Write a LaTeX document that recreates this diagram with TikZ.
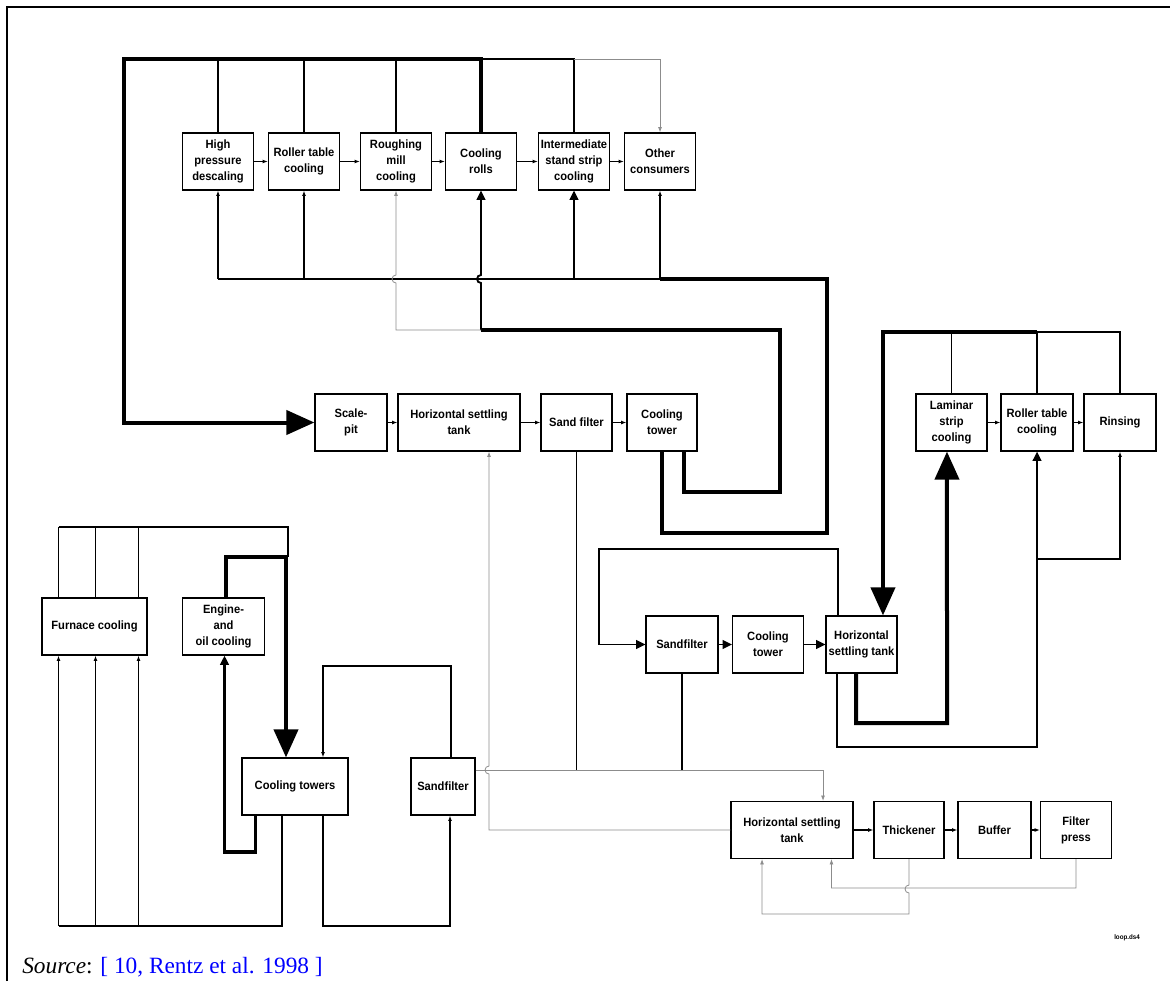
\documentclass[tikz,border=0pt]{standalone}
\usepackage{fontspec}
\setmainfont{Liberation Serif}
\newfontfamily\boxfont{Liberation Sans}[FakeStretch=0.93]
\usetikzlibrary{arrows.meta}

\tikzset{
    box/.style={draw, rectangle, line width=0.9pt, inner sep=1pt, align=center,
        minimum height=42.75pt, font=\boxfont\bfseries\fontsize{9}{12}\selectfont},
    wd/.style={minimum width=#1*0.75pt},
    lngrey/.style={line width=0.6pt, black!45},
    lnnorm/.style={line width=0.8pt},
    lnmid/.style={line width=1.4pt},
    lnheavy/.style={line width=2.3pt},
    lnvheavy/.style={line width=3pt},
    tipsm/.style={-{Latex[length=4pt,width=3pt]}},
    tipmd/.style={-{Triangle[length=7pt,width=6.5pt]}},
    tipbg/.style={-{Triangle[length=21pt,width=18pt]}}
}

\begin{document}
\begin{tikzpicture}[x=0.75pt, y=-0.75pt]
    \useasboundingbox (0,0) rectangle (1170,981);
    \draw[line width=2pt] (7,981) -- (7,7) -- (1170,7);

    % levels of the collecting lines
    \coordinate (top) at (0,59);
    \coordinate (ret) at (0,279);
    \coordinate (ret2) at (0,330);
    \coordinate (top2) at (0,332);
    \coordinate (mixl) at (0,770);
    \coordinate (topF) at (0,527);
    \coordinate (botF) at (0,926);

    % roughing line
    \foreach \nm/\xx/\txt in {hpd/218/{High\\pressure\\descaling}, rtc/304/{Roller table\\cooling},
        rmc/396/{Roughing\\mill\\cooling}, crl/481/{Cooling\\rolls},
        isc/574/{Intermediate\\stand strip\\cooling}, oth/660/{Other\\consumers}}{
        \draw (\xx, 161.5) node[box, wd=71] (\nm) {\txt};
    }
    \draw (351,422.5) node[box, wd=72] (scp) {Scale-\\pit};
    \draw (459,422.5) node[box, wd=122] (hst1) {Horizontal settling\\tank};
    \draw (576.5,422.5) node[box, wd=71] (sf1) {Sand filter};
    \draw (662,422.5) node[box, wd=70] (ct1) {Cooling\\tower};

    % finishing line
    \draw (951.5,422.5) node[box, wd=71] (lam) {Laminar\\strip\\cooling};
    \draw (1037,422.5) node[box, wd=72] (rt2) {Roller table\\cooling};
    \draw (1120,422.5) node[box, wd=72] (rin) {Rinsing};
    \draw (682,644.5) node[box, wd=72] (sf2) {Sandfilter};
    \draw (768,644.5) node[box, wd=71] (ct2) {Cooling\\tower};
    \draw (861.5,644.5) node[box, wd=71] (hst2) {Horizontal\\settling tank};

    % furnace and engine circuit
    \draw (94.5,626.5) node[box, wd=105] (fur) {Furnace cooling};
    \draw (223.5,626.5) node[box, wd=82] (eng) {Engine-\\and\\oil cooling};
    \draw (295,786.5) node[box, wd=106] (cts) {Cooling towers};
    \draw (443,786.5) node[box, wd=64] (sf3) {Sandfilter};

    % sludge line
    \foreach \nm/\xx/\ww/\txt in {hst3/792/122/{Horizontal settling\\tank}, thk/909/70/Thickener,
        buf/994.5/73/Buffer, flp/1076/71/{Filter\\press}}{
        \draw (\xx, 830) node[box, wd=\ww] (\nm) {\txt};
    }

    % arrows along the rows
    \foreach \a/\b in {hpd/rtc, rtc/rmc, rmc/crl, crl/isc, isc/oth, scp/hst1, hst1/sf1, sf1/ct1,
        lam/rt2, rt2/rin, hst3/thk, thk/buf, buf/flp}
        \draw[lnnorm, tipsm] (\a) -- (\b);
    \foreach \a/\b in {sf2/ct2, ct2/hst2}
        \draw[lnmid, tipmd] (\a) -- (\b);

    % roughing: collecting main to scale-pit
    \foreach \nm in {hpd, rtc, rmc}
        \draw[lnnorm] (\nm.north) -- (\nm.north |- top);
    \draw[lnvheavy, tipbg] (crl.north) |- (124,59) |- (scp.west);
    \draw[lnmid] (crl.north |- top) -| (isc.north);
    \draw[lngrey, tipsm] (isc.north |- top) -| (oth.north);

    % roughing: supply from cooling tower
    \draw[lnheavy] (ct1.south) |- (827,533) |- (oth.south |- ret);
    \draw[lnnorm] (oth.south |- ret) -- (hpd.south |- ret);
    \foreach \nm in {hpd, rtc, oth}
        \draw[lnnorm, tipsm] (\nm.south |- ret) -- (\nm.south);
    \draw[lnmid, tipmd] (isc.south |- ret) -- (isc.south);
    \draw[lnheavy] ([xshift=16.5pt]ct1.south) |- (780,492) |- (crl.south |- ret2);
    \draw[lnmid, tipmd] (crl.south |- ret2) -- ([yshift=-3pt]crl.south |- ret)
        arc[start angle=-90, end angle=-270, radius=3pt] -- (crl.south);
    \draw[lngrey, tipsm] (crl.south |- ret2) -- (rmc.south |- ret2) -- ([yshift=-3pt]rmc.south |- ret)
        arc[start angle=-90, end angle=-270, radius=3pt] -- (rmc.south);

    % finishing circuit
    \draw[lnvheavy, tipbg] (rt2.north |- top2) -| ([xshift=16.1pt]hst2.north);
    \draw[lnmid] (lam.north) -- (lam.north |- top2);
    \draw[lnnorm] (rt2.north) -- (rt2.north |- top2);
    \draw[lnnorm] (rin.north) |- (rt2.north |- top2);
    \draw[lnvheavy, tipbg] ([xshift=-4pt]hst2.south) |- (947,723) -- ([xshift=-3.4pt]lam.south);
    \draw[lnmid, tipmd] ([xshift=-18.4pt]hst2.south) |- (1037,747) -- (rt2.south);
    \draw[lnnorm, tipsm] (1037,559) -| (rin.south);
    \draw[lnmid, tipmd] ([xshift=-17.6pt]hst2.north) |- (599,549) |- (sf2.west);

    % to the sludge treatment
    \draw[lnnorm] (sf2.south) -- (sf2.south |- mixl);
    \draw[lnmid] (sf1.south) -- (sf1.south |- mixl);
    \draw[lngrey, tipsm] ([yshift=12.4pt]sf3.east) -| ([xshift=23.25pt]hst3.north);
    \draw[lngrey, tipsm] (hst3.west) -| (489,774)
        arc[start angle=-90, end angle=-270, radius=3pt] -- ([xshift=22.5pt]hst1.south);
    \draw[lngrey, tipsm] (thk.south) -- (909,885)
        arc[start angle=90, end angle=270, radius=3pt] -- (909,914) -| ([xshift=-22.5pt]hst3.south);
    \draw[lngrey, tipsm] (flp.south) |- (831.5,888) -- ([xshift=29.6pt]hst3.south);

    % furnace and engine circuit
    \foreach \dx in {-27, 0.75, 33}
        \draw[lnnorm] ([xshift=\dx pt]fur.north) -- ([xshift=\dx pt]fur.north |- topF);
    \draw[lnnorm] ([xshift=-27pt]fur.north |- topF) -- ([xshift=33pt]fur.north |- topF);
    \draw[lnmid] ([xshift=33pt]fur.north |- topF) -| (288,557);
    \draw[lnvheavy, tipbg] ([xshift=2pt]eng.north) |- (286,557) -- ([xshift=-6.75pt]cts.north);
    \draw[lnheavy, tipmd] ([xshift=-29.5pt]cts.south) |- (224.5,852) -- ([xshift=0.75pt]eng.south);
    \draw[lnmid] ([xshift=-9.75pt]cts.south) |- ([xshift=0.75pt]fur.south |- botF);
    \draw[lnnorm] ([xshift=0.75pt]fur.south |- botF) -- ([xshift=-27pt]fur.south |- botF);
    \foreach \dx in {-27, 0.75, 33}
        \draw[lnnorm, tipsm] ([xshift=\dx pt]fur.south |- botF) -- ([xshift=\dx pt]fur.south);
    \draw[lnnorm, tipsm] ([xshift=21pt]cts.south) |- (450,926) -- ([xshift=5.25pt]sf3.south);
    \draw[lnnorm, tipsm] ([xshift=6pt]sf3.north) |- (323,666) -- ([xshift=21pt]cts.north);

    \node[font=\boxfont\bfseries\fontsize{5}{6}\selectfont] (tag) at (1127,938) {loop.ds4};
    \node[anchor=base west, inner sep=0pt, font=\fontsize{17.5}{20}\selectfont] (src) at (22,973)
        {\textit{Source}: \textcolor{blue}{[ 10, Rentz et al. 1998 ]}};
\end{tikzpicture}
\end{document}
